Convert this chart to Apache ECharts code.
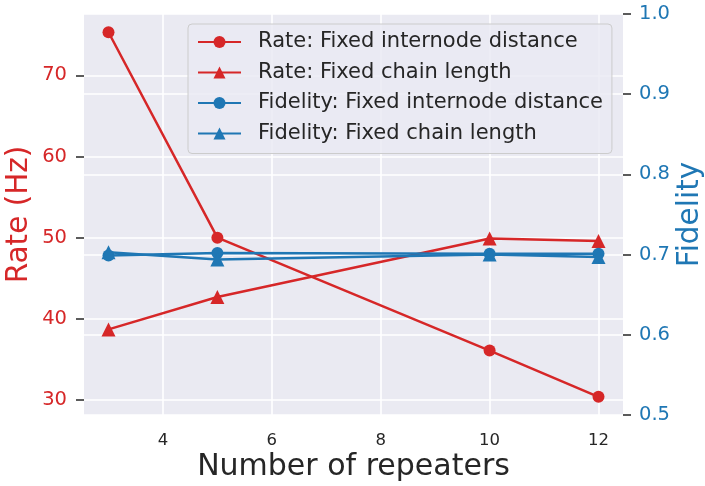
<!DOCTYPE html>
<html>
<head>
<meta charset="utf-8">
<script src="https://cdn.jsdelivr.net/npm/echarts@6/dist/echarts.min.js"></script>
<style>
html,body{margin:0;padding:0;background:#ffffff;}
#chart{width:705px;height:486px;}
</style>
</head>
<body>
<div id="chart"></div>
<script>
const repeaters = [3, 5, 10, 12];
const rateInternode = [75.3, 50.0, 36.1, 30.4];
const rateChain = [38.7, 42.7, 49.9, 49.6];
const fidelityInternode = [0.699, 0.702, 0.701, 0.701];
const fidelityChain = [0.703, 0.694, 0.700, 0.697];
const xTicks = [4, 6, 8, 10, 12];
const rateTicks = [30, 40, 50, 60, 70];
const fidelityTicks = [0.5, 0.6, 0.7, 0.8, 0.9, 1.0];
const seriesNames = [
  'Rate: Fixed internode distance',
  'Rate: Fixed chain length',
  'Fidelity: Fixed internode distance',
  'Fidelity: Fixed chain length'
];

const RED = '#d62728';
const BLUE = '#1f77b4';
const FONT = 'DejaVu Sans';

function pairs(ys) { return repeaters.map((x, i) => [x, ys[i]]); }

const chart = echarts.init(document.getElementById('chart'), null, {renderer: 'canvas'});
const gridLine = {show: true, lineStyle: {color: '#ffffff', width: 1.6}};

chart.setOption({
  animation: false,
  backgroundColor: '#ffffff',
  grid: {left: 84, right: 82, top: 14, bottom: 71, show: true, backgroundColor: '#eaeaf2', borderWidth: 0,
    containLabel: false, outerBoundsMode: 'none'},
  xAxis: {
    type: 'value', min: 2.55, max: 12.45,
    name: 'Number of repeaters', nameLocation: 'middle', nameGap: 37, nameMoveOverlap: false,
    nameTextStyle: {fontFamily: FONT, fontSize: 30, color: '#262626'},
    axisLine: {show: false},
    axisTick: {show: false, customValues: xTicks},
    axisLabel: {customValues: xTicks, fontFamily: FONT, fontSize: 16.5, color: '#262626', margin: 17},
    splitLine: gridLine
  },
  yAxis: [
    {
      type: 'value', position: 'left', min: 28.16, max: 77.55,
      name: 'Rate (Hz)', nameLocation: 'middle', nameGap: 50, nameRotate: 90, nameMoveOverlap: false,
      nameTextStyle: {fontFamily: FONT, fontSize: 29.5, color: RED},
      axisLine: {show: false},
      axisTick: {show: true, customValues: rateTicks, length: 8, lineStyle: {color: '#262626', width: 1.5}},
      axisLabel: {customValues: rateTicks, fontFamily: FONT, fontSize: 19.5, color: RED, margin: 17},
      splitLine: gridLine
    },
    {
      type: 'value', position: 'right', min: 0.5, max: 1.0, interval: 0.1,
      name: 'Fidelity', nameLocation: 'middle', nameGap: 52, nameRotate: 90, nameMoveOverlap: false,
      nameTextStyle: {fontFamily: FONT, fontSize: 29.5, color: BLUE},
      axisLine: {show: false},
      axisTick: {show: true, customValues: fidelityTicks, length: 8, lineStyle: {color: '#262626', width: 1.5}},
      axisLabel: {customValues: fidelityTicks, fontFamily: FONT, fontSize: 19.5, color: BLUE, margin: 16,
        formatter: v => v.toFixed(1)},
      splitLine: gridLine
    }
  ],
  legend: {
    orient: 'vertical', left: 188, top: 24,
    backgroundColor: 'rgba(234,234,242,0.8)', borderColor: '#cccccc', borderWidth: 1, borderRadius: 4,
    padding: [6, 9, 8, 9],
    itemWidth: 43, itemHeight: 15, itemGap: 6.5,
    textStyle: {fontFamily: FONT, fontSize: 21, color: '#262626', lineHeight: 24, padding: [0, 0, 0, 12]},
    data: seriesNames
  },
  series: [
    {name: seriesNames[0], type: 'line', yAxisIndex: 0, data: pairs(rateInternode), symbol: 'circle', symbolSize: 12,
      color: RED, lineStyle: {width: 2.5, color: RED}, itemStyle: {color: RED}, z: 2},
    {name: seriesNames[1], type: 'line', yAxisIndex: 0, data: pairs(rateChain), symbol: 'triangle', symbolSize: 14,
      color: RED, lineStyle: {width: 2.5, color: RED}, itemStyle: {color: RED}, z: 2},
    {name: seriesNames[2], type: 'line', yAxisIndex: 1, data: pairs(fidelityInternode), symbol: 'circle', symbolSize: 12,
      color: BLUE, lineStyle: {width: 2.5, color: BLUE}, itemStyle: {color: BLUE}, z: 3},
    {name: seriesNames[3], type: 'line', yAxisIndex: 1, data: pairs(fidelityChain), symbol: 'triangle', symbolSize: 14,
      color: BLUE, lineStyle: {width: 2.5, color: BLUE}, itemStyle: {color: BLUE}, z: 3}
  ]
});
</script>
</body>
</html>
